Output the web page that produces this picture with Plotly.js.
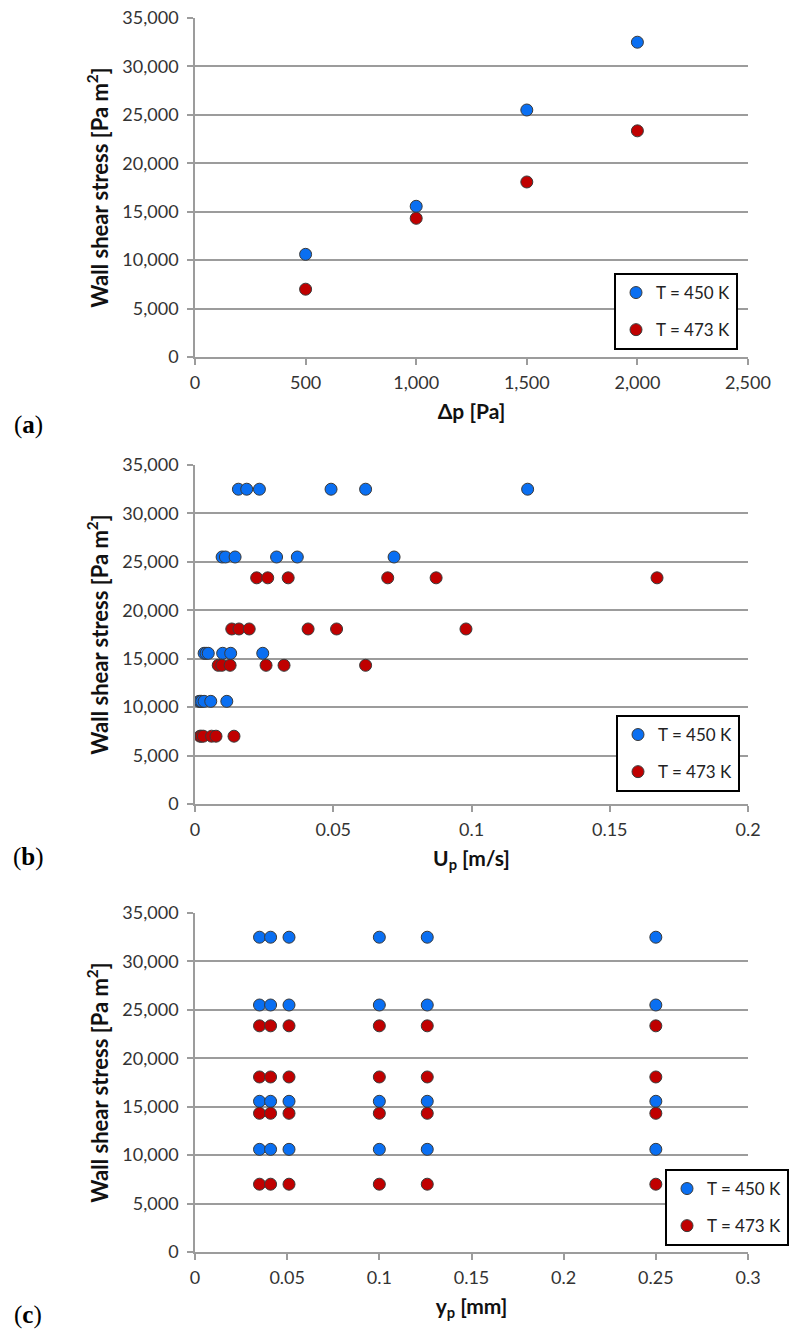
<!DOCTYPE html>
<html><head><meta charset="utf-8">
<script src="https://cdn.plot.ly/plotly-3.0.1.min.js"></script>
<style>html,body{margin:0;padding:0;background:#fff}</style>
</head><body><div id="chart" style="width:791px;height:1342px"></div>
<script>
// ---- data ----
const seriesNames = ["T = 450 K", "T = 473 K"];
const deltaP = [500, 1000, 1500, 2000];                 // Δp [Pa]
const tau450 = [10600, 15560, 25500, 32500];            // wall shear stress, T = 450 K
const tau473 = [7000, 14320, 18070, 23350];             // wall shear stress, T = 473 K
const yp = [0.035, 0.041, 0.051, 0.1, 0.126, 0.25];     // y_p [mm]
// U_p [m/s], one row per Δp level, one column per y_p
const up450 = [
  [0.0015, 0.0019, 0.0024, 0.0033, 0.0057, 0.0115],
  [0.0033, 0.0040, 0.0048, 0.0100, 0.0129, 0.0245],
  [0.0098, 0.0110, 0.0145, 0.0295, 0.0370, 0.0720],
  [0.0157, 0.0187, 0.0233, 0.0492, 0.0617, 0.1203]
];
const up473 = [
  [0.0018, 0.0023, 0.0030, 0.0060, 0.0076, 0.0141],
  [0.0084, 0.0097, 0.0127, 0.0257, 0.0322, 0.0617],
  [0.0133, 0.0159, 0.0196, 0.0409, 0.0512, 0.0980],
  [0.0223, 0.0263, 0.0337, 0.0697, 0.0872, 0.1671]
];

// ---- styling ----
const W = 791, H = 1342;
const FONT = "Lato, 'Open Sans', sans-serif";
const BLUE = "#0a6ff2", RED = "#c00000";
const GRID = "#9c9c9c";
const colors = [BLUE, RED];

function flatX(rows){ const o=[]; rows.forEach(r=>r.forEach(v=>o.push(v))); return o; }
function flatY(rows, tau){ const o=[]; rows.forEach((r,i)=>r.forEach(()=>o.push(tau[i]))); return o; }
function repX(x, n){ const o=[]; for(let i=0;i<n;i++) x.forEach(v=>o.push(v)); return o; }
function repY(tau, n){ const o=[]; tau.forEach(t=>{ for(let i=0;i<n;i++) o.push(t); }); return o; }

function mk(x, y, k, xa, ya, lg){
  return {
    type: "scatter", mode: "markers", x: x, y: y, name: seriesNames[k],
    xaxis: xa, yaxis: ya, legend: lg, legendgroup: lg + k,
    marker: {size: 12, color: colors[k], line: {color: "#3a3a3a", width: 1}},
    hoverinfo: "x+y"
  };
}

const traces = [
  mk(deltaP, tau450, 0, "x", "y", "legend"),
  mk(deltaP, tau473, 1, "x", "y", "legend"),
  mk(flatX(up450), flatY(up450, tau450), 0, "x2", "y2", "legend2"),
  mk(flatX(up473), flatY(up473, tau473), 1, "x2", "y2", "legend2"),
  mk(repX(yp, tau450.length), repY(tau450, yp.length), 0, "x3", "y3", "legend3"),
  mk(repX(yp, tau473.length), repY(tau473, yp.length), 1, "x3", "y3", "legend3")
];

const xDom = [195/W, 748/W];
function yDom(top, bot){ return [1 - bot/H, 1 - top/H]; }

function yAxis(dom, anchor){
  return {
    domain: dom, anchor: anchor, range: [0, 35000], dtick: 5000, tick0: 0,
    tickformat: ",d", showgrid: true, gridcolor: GRID, gridwidth: 1.5,
    showline: true, linecolor: GRID, linewidth: 1.5, zeroline: false,
    ticks: "outside", ticklen: 6, tickwidth: 1.5, tickcolor: GRID,
    ticklabelstandoff: 5,
    tickfont: {family: FONT, size: 18, color: "#333"},
    automargin: false,
    title: {text: "<b>Wall shear stress [Pa m<sup>2</sup>]</b>", font: {family: FONT, size: 22, color: "#111"}, standoff: 8},
    fixedrange: true
  };
}
function xAxis(dom, anchor, range, dtick, fmt, title){
  return {
    domain: dom, anchor: anchor, range: range, dtick: dtick, tick0: 0,
    tickformat: fmt, showgrid: false, zeroline: false,
    showline: true, linecolor: GRID, linewidth: 1.5,
    ticks: "outside", ticklen: 6, tickwidth: 1.5, tickcolor: GRID,
    ticklabelstandoff: 3,
    tickfont: {family: FONT, size: 18, color: "#333"},
    automargin: false,
    title: {text: title, font: {family: FONT, size: 21, color: "#111"}, standoff: 12},
    fixedrange: true
  };
}
function legendBox(x, y){
  return {
    x: x, y: y, xref: "paper", yref: "paper", xanchor: "left", yanchor: "top",
    bgcolor: "#fff", bordercolor: "#000", borderwidth: 2,
    font: {family: FONT, size: 17, color: "#222"},
    traceorder: "grouped", tracegroupgap: 12, itemwidth: 30
  };
}

const labelFont = {family: "'Liberation Serif', 'DejaVu Serif', serif", size: 25, color: "#000"};
const layout = {
  width: W, height: H, margin: {l: 0, r: 0, t: 0, b: 0},
  paper_bgcolor: "#fff", plot_bgcolor: "#fff", showlegend: true,
  xaxis: xAxis(xDom, "y", [0, 2500], 500, ",d", "<b>Δp [Pa]</b>"),
  yaxis: yAxis(yDom(18, 357), "x"),
  xaxis2: xAxis(xDom, "y2", [0, 0.2], 0.05, "", "<b>U<sub>p</sub> [m/s]</b>"),
  yaxis2: yAxis(yDom(465, 804), "x2"),
  xaxis3: xAxis(xDom, "y3", [0, 0.3], 0.05, "", "<b>y<sub>p</sub> [mm]</b>"),
  yaxis3: yAxis(yDom(913, 1252), "x3"),
  legend: legendBox(614/W, 1 - 273/H),
  legend2: legendBox(616/W, 1 - 715/H),
  legend3: legendBox(665/W, 1 - 1169/H),
  annotations: [
    {text: "(<b>a</b>)", x: 28/W, y: 1 - 425/H},
    {text: "(<b>b</b>)", x: 28/W, y: 1 - 857/H},
    {text: "(<b>c</b>)", x: 28/W, y: 1 - 1315/H}
  ].map(a => Object.assign(a, {xref: "paper", yref: "paper", xanchor: "center", yanchor: "middle", showarrow: false, font: labelFont}))
};

Plotly.newPlot("chart", traces, layout, {displayModeBar: false, staticPlot: false});
</script></body></html>
